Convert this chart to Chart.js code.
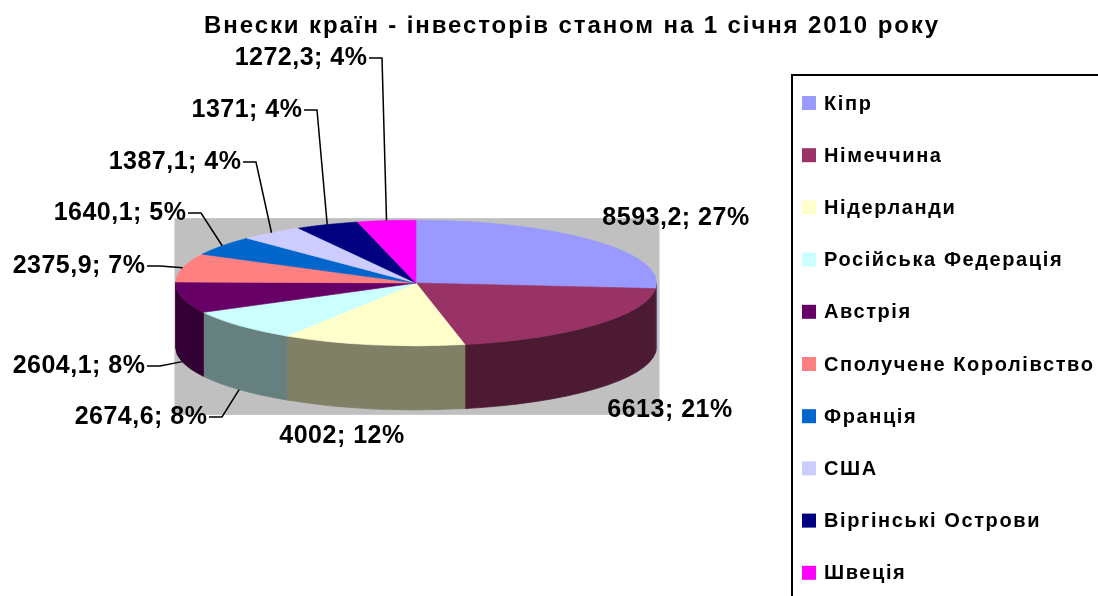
<!DOCTYPE html>
<html><head><meta charset="utf-8">
<script src="https://cdn.jsdelivr.net/npm/chart.js@4.4.0/dist/chart.umd.min.js"></script>
<style>html,body{margin:0;padding:0;background:#fff;overflow:hidden}#wrap{position:relative;width:1098px;height:596px}</style>
</head><body><div id="wrap"><canvas id="c"></canvas></div>
<script>
const titleText = 'Внески країн - інвесторів станом на 1 січня 2010 року';
const categories = ['Кіпр','Німеччина','Нідерланди','Російська Федерація','Австрія','Сполучене Королівство','Франція','США','Віргінські Острови','Швеція'];
const values = [8593.2, 6613, 4002, 2674.6, 2604.1, 2375.9, 1640.1, 1387.1, 1371, 1272.3];
const valueLabels = ['8593,2','6613','4002','2674,6','2604,1','2375,9','1640,1','1387,1','1371','1272,3'];
const percentLabels = ['27%','21%','12%','8%','8%','7%','5%','4%','4%','4%'];
const topColors = ['#9999FF','#993366','#FFFFCC','#CCFFFF','#660066','#FF8080','#0066CC','#CCCCFF','#000080','#FF00FF'];
const sideColors = ['#4D4D80','#4D1A33','#808066','#668080','#330033','#804040','#003366','#666680','#000040','#800080'];

// label text placement (text anchor; leaders are computed from slice geometry)
const labelLayout = [
  {x:676, y:218, align:'center', leader:false},
  {x:670, y:410, align:'center', leader:false},
  {x:342, y:436, align:'center', leader:false},
  {x:207, y:417, align:'right', leader:true},
  {x:145, y:366, align:'right', leader:true},
  {x:145, y:266, align:'right', leader:true},
  {x:186, y:213, align:'right', leader:true},
  {x:241, y:162, align:'right', leader:true},
  {x:302, y:110, align:'right', leader:true},
  {x:367, y:58, align:'right', leader:true}
];
const K = 63/241, DEPTH = 64, CY = 283;
const FONT = '"Liberation Sans", Arial, sans-serif';

function geom(chart){
  const arcs = chart.getDatasetMeta(0).data;
  const cx = arcs[0].x, rx = arcs[0].outerRadius;
  return {arcs, cx, cy: CY, rx, ry: rx*K};
}
function setSpacing(ctx, v){ try { ctx.letterSpacing = v; } catch(e){} }

const pie3d = {
  id:'pie3d',
  beforeDatasetsDraw(chart){
    const ctx = chart.ctx;
    const {arcs, cx, cy, rx, ry} = geom(chart);
    ctx.save();
    ctx.fillStyle = '#C0C0C0';
    ctx.fillRect(cx-rx-1, cy-ry-2, 2*rx+4, 2*ry+DEPTH+7);
    arcs.forEach((arc,i)=>{
      const a = Math.max(arc.startAngle, 0), b = Math.min(arc.endAngle, Math.PI);
      if (b <= a) return;
      ctx.beginPath();
      ctx.ellipse(cx, cy, rx, ry, 0, a, b);
      ctx.ellipse(cx, cy+DEPTH, rx, ry, 0, b, a, true);
      ctx.closePath();
      ctx.fillStyle = sideColors[i];
      ctx.strokeStyle = sideColors[i];
      ctx.lineWidth = 0.8;
      ctx.fill(); ctx.stroke();
    });
    arcs.forEach(arc=>{
      ctx.save();
      ctx.translate(cx, cy); ctx.scale(1, K); ctx.translate(-arc.x, -arc.y);
      arc.draw(ctx);
      ctx.restore();
    });
    ctx.restore();
    return false;
  },
  afterDraw(chart){
    const ctx = chart.ctx;
    const {arcs, cx, cy, rx, ry} = geom(chart);
    ctx.save();
    ctx.fillStyle = '#000';
    ctx.textBaseline = 'middle';
    // title
    ctx.font = 'bold 24px ' + FONT;
    setSpacing(ctx, '1.9px');
    ctx.textAlign = 'center';
    ctx.fillText(titleText, 572, 26);
    // data labels
    ctx.font = 'bold 25px ' + FONT;
    setSpacing(ctx, '0.5px');
    ctx.strokeStyle = '#000'; ctx.lineWidth = 1.5;
    arcs.forEach((arc,i)=>{
      const L = labelLayout[i];
      const txt = valueLabels[i] + '; ' + percentLabels[i];
      ctx.textAlign = L.align;
      ctx.fillText(txt, L.x + (L.align === 'right' ? 0.5 : 0), L.y);
      if (L.leader){
        const mid = (arc.startAngle + arc.endAngle)/2;
        const s = Math.sin(mid);
        const px = cx + rx*Math.cos(mid);
        const py = cy + ry*s + (s > 0 ? DEPTH : 0);
        ctx.beginPath();
        ctx.moveTo(L.x+2, L.y);
        ctx.lineTo(L.x+15, L.y);
        ctx.lineTo(px, py);
        ctx.stroke();
      }
    });
    // legend
    setSpacing(ctx, '0px');
    ctx.lineWidth = 2;
    ctx.strokeRect(792, 75, 400, 600);
    ctx.font = 'bold 20px ' + FONT;
    setSpacing(ctx, '1.6px');
    ctx.textAlign = 'left';
    categories.forEach((c,i)=>{
      const y = 103 + i*52.2;
      ctx.fillStyle = topColors[i];
      ctx.fillRect(802, y-7, 14, 14);
      ctx.fillStyle = '#000';
      ctx.fillText(c, 824, y+1);
    });
    ctx.restore();
  }
};

new Chart(document.getElementById('c'), {
  type:'pie',
  data:{labels:categories, datasets:[{data:values, backgroundColor:topColors, borderColor:topColors, borderWidth:1}]},
  options:{
    responsive:true, maintainAspectRatio:false, animation:false,
    layout:{padding:{left:175, right:441, top:57, bottom:57}},
    plugins:{legend:{display:false}, tooltip:{enabled:false}, title:{display:false}}
  },
  plugins:[pie3d]
});
</script></body></html>
